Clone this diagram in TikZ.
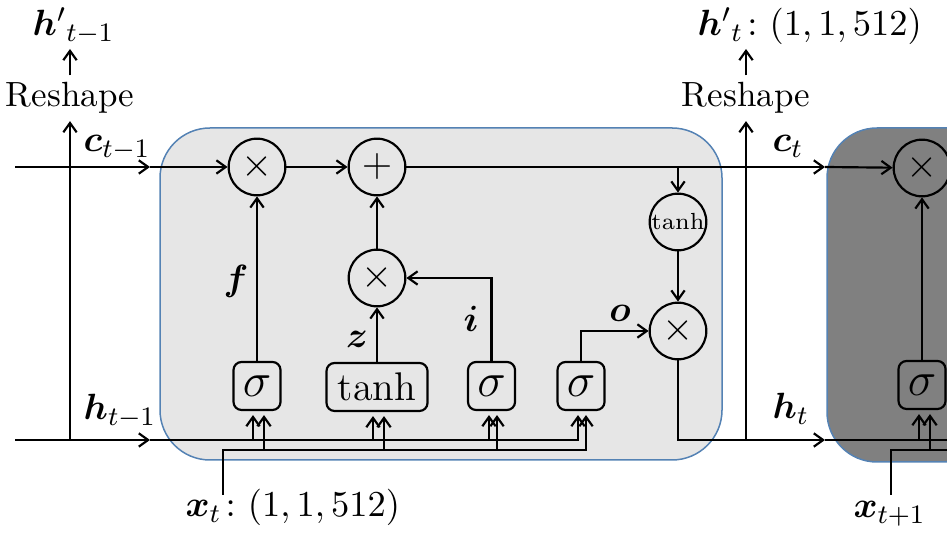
\documentclass[tikz,border=0pt]{standalone}
\usepackage{fontspec}
\usepackage{amsmath}
\usepackage{bm}
\usetikzlibrary{arrows.meta,calc}
\definecolor{cellfill}{RGB}{230,230,230}
\definecolor{celldark}{RGB}{128,128,128}
\definecolor{cellborder}{RGB}{84,130,180}
\tikzset{
  wire/.style={line width=0.65pt},
  arr/.style={wire,-{Straight Barb[length=2.8pt,width=4pt]}},
  garr/.style={arr,shorten >=1.2pt},
  cellbox/.style={draw=cellborder,line width=0.45pt,rounded corners=15pt},
  opc/.style={circle,draw,wire,minimum size=17pt,inner sep=0pt,font=\large},
  gate/.style={draw,wire,rounded corners=2.4pt,minimum width=14.1pt,minimum height=14.4pt,inner sep=0pt,font=\large},
  lbl/.style={inner sep=0pt,font=\fontsize{11}{13}\selectfont},
  reshape/.style={inner sep=2pt,font=\fontsize{10.5}{12}\selectfont}
}
\begin{document}
\begin{tikzpicture}[x=0.3pt,y=-0.3pt]
\useasboundingbox (0,0) rectangle (947,533);
\clip (0,0) rectangle (947,533);
% cells
\draw[cellbox,fill=cellfill] (160,128) rectangle (722,460);
\draw[cellbox,fill=celldark] (827,128) rectangle (1010,462);
% operation circles
\node[opc] (mulf) at (257,167) {$\times$};
\node[opc] (add) at (377,167) {$+$};
\node[opc] (muli) at (377,278) {$\times$};
\node[opc,font=\scriptsize] (tanhc) at (678,222) {tanh};
\node[opc] (mulo) at (678,331) {$\times$};
\node[opc] (mul2) at (922,168) {$\times$};
% gates
\node[gate] (gf) at (257,386) {\Large$\sigma$};
\node[gate,minimum width=30.3pt] (gz) at (377,387) {tanh};
\node[gate] (gi) at (491.5,386) {\Large$\sigma$};
\node[gate] (go) at (581,386) {\Large$\sigma$};
\node[gate] (g2) at (922,385) {\Large$\sigma$};
% reshape
\node[reshape,anchor=base] (re1) at (70,107) {Reshape};
\node[reshape,anchor=base] (re2) at (746,107) {Reshape};
% labels
\node[lbl,anchor=base west] (hp1) at (32,36) {${\bm{h}'}_{t-1}$};
\node[lbl,anchor=base west] (hp2) at (697,36) {${\bm{h}'}_{t}\colon(1,1,512)$};
\node[lbl,anchor=base west] (lc1) at (83,152) {$\bm{c}_{t-1}$};
\node[lbl,anchor=base west] (lh1) at (83,420) {$\bm{h}_{t-1}$};
\node[lbl,anchor=base west] (lc2) at (772,152) {$\bm{c}_{t}$};
\node[lbl,anchor=base west] (lh2) at (772,419) {$\bm{h}_{t}$};
\node[lbl,anchor=base] (lf) at (236,291) {$\bm{f}$};
\node[lbl,anchor=base] (lz) at (357,348) {$\bm{z}$};
\node[lbl,anchor=base] (li) at (471,332) {$\bm{i}$};
\node[lbl,anchor=base] (lo) at (620,322) {$\bm{o}$};
\node[lbl,anchor=base west] (lx1) at (185,517) {$\bm{x}_t\colon(1,1,512)$};
\node[lbl,anchor=base west] (lx2) at (853,518) {$\bm{x}_{t+1}$};
% coordinates
\coordinate (cL) at (15,167);
\coordinate (cM1) at (150,167);
\coordinate (cBr) at (678,167);
\coordinate (cM2) at (825,167);
\coordinate (hL) at (15,440);
\coordinate (hM1) at (150,440);
\coordinate (vL) at (70,440);
\coordinate (vR) at (746,440);
\coordinate (hM2) at (825,440);
\coordinate (hE) at (960,440);
\coordinate (xrow) at (0,450);
\coordinate (xE) at (960,450);
\coordinate (xt) at (223,495);
\coordinate (xt2) at (891,495);
\coordinate (hp1a) at (70,49);
\coordinate (hp2a) at (746,49);
\coordinate (gfa) at ($(gf.south)+(-4,0)$);
\coordinate (gfb) at ($(gf.south)+(7,0)$);
\coordinate (gza) at ($(gz.south)+(-4,0)$);
\coordinate (gzb) at ($(gz.south)+(7,0)$);
\coordinate (gia) at ($(gi.south)+(-2.5,0)$);
\coordinate (gib) at ($(gi.south)+(5.5,0)$);
\coordinate (goa) at ($(go.south)+(-3,0)$);
\coordinate (gob) at ($(go.south)+(5,0)$);
\coordinate (g2a) at ($(g2.south)+(-3,0)$);
\coordinate (g2b) at ($(g2.south)+(8,0)$);
% cell state line
\draw[arr] (cL) -- (cM1);
\draw[arr] (cM1) -- (mulf);
\draw[arr] (mulf) -- (add);
\draw[wire] (add) -- (cBr);
\draw[arr] (cBr) -- (cM2);
\draw[arr] (cM2) -- (mul2);
\draw[arr] (cBr) -- (tanhc);
\draw[arr] (tanhc) -- (mulo);
% gate outputs
\draw[arr] (gf) -- (mulf);
\draw[arr] (gz) -- (muli);
\draw[arr] (muli) -- (add);
\draw[arr] (gi.north) |- (muli);
\draw[arr] (go.north) |- (mulo);
\draw[arr] (g2) -- (mul2);
% hidden state
\draw[arr] (mulo) |- (hM2);
\draw[wire] (hM2) -- (hE);
\draw[arr] (hL) -- (hM1);
\draw[garr] (hM1) -| (goa);
\draw[garr] (gfa |- hM1) -- (gfa);
\draw[garr] (gza |- hM1) -- (gza);
\draw[garr] (gia |- hM1) -- (gia);
\draw[garr] (g2a |- hM2) -- (g2a);
% inputs x
\draw[garr] (xt) |- (gob |- xrow) -- (gob);
\draw[garr] (gfb |- xrow) -- (gfb);
\draw[garr] (gzb |- xrow) -- (gzb);
\draw[garr] (gib |- xrow) -- (gib);
\draw[wire] (xt2) |- (xE);
\draw[garr] (g2b |- xrow) -- (g2b);
% reshape outputs
\draw[arr] (vL) -- (re1.south);
\draw[arr] (re1.north) -- (hp1a);
\draw[arr] (vR) -- (re2.south);
\draw[arr] (re2.north) -- (hp2a);
\end{tikzpicture}
\end{document}
